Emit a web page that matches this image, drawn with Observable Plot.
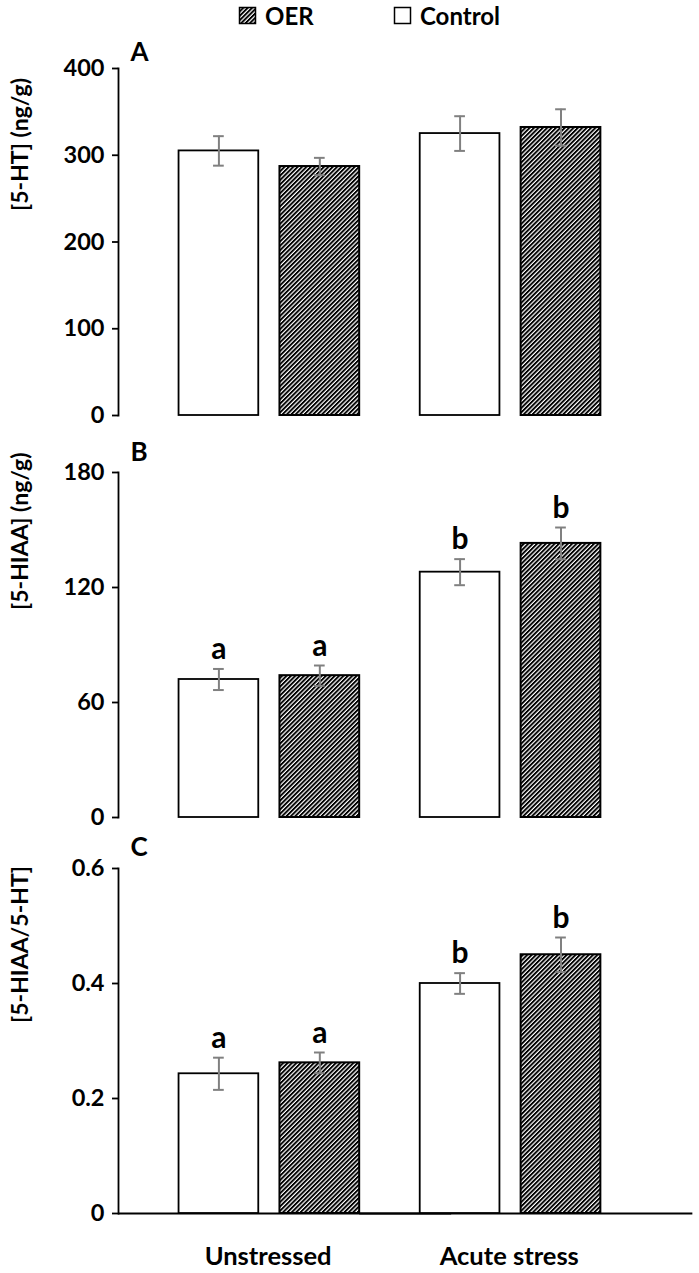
<!DOCTYPE html>
<html><head><meta charset="utf-8">
<script src="https://cdn.jsdelivr.net/npm/d3@7"></script>
<script src="https://cdn.jsdelivr.net/npm/@observablehq/plot@0.6"></script>
<style>
body{margin:0;background:#fff;overflow:hidden;font-family:Lato,sans-serif;}
svg{display:block}
#chart g[aria-label^="y-axis"], #chart g[aria-label="frame"] {stroke-width:1.8px}
</style></head><body>
<svg width="0" height="0" style="position:absolute">
  <defs>
    <pattern id="hatch" patternUnits="userSpaceOnUse" width="3.1" height="3.1" patternTransform="rotate(45)">
      <rect width="3.1" height="3.1" fill="white"/>
      <rect width="1.9" height="3.1" fill="black"/>
    </pattern>
  </defs>
</svg>
<svg id="legend" width="699" height="38" style="font-family:Lato,sans-serif;font-weight:bold;font-size:24px">
  <rect x="239.5" y="7.5" width="16" height="16" fill="url(#hatch)" stroke="black" stroke-width="1.5"/>
  <text x="265" y="24.5">OER</text>
  <rect x="394.5" y="7.5" width="16" height="16" fill="white" stroke="black" stroke-width="1.5"/>
  <text x="420" y="24.5">Control</text>
</svg>
<div id="chart"></div>
<script>
// ---- data ----
const groups = ["Unstressed", "Acute stress"];
const series = ["Control", "OER"];

// Panel A: [5-HT] (ng/g)
const htControl = [305, 325];
const htOER = [287, 332];
const htControlErr = [17, 20];
const htOERErr = [10, 21];

// Panel B: [5-HIAA] (ng/g)
const hiaaControl = [72, 128];
const hiaaOER = [74, 143];
const hiaaControlErr = [5.5, 6.8];
const hiaaOERErr = [5.3, 8.3];
const hiaaControlLetters = ["a", "b"];
const hiaaOERLetters = ["a", "b"];

// Panel C: [5-HIAA/5-HT]
const ratioControl = [0.243, 0.400];
const ratioOER = [0.262, 0.450];
const ratioControlErr = [0.028, 0.018];
const ratioOERErr = [0.018, 0.030];
const ratioControlLetters = ["a", "b"];
const ratioOERLetters = ["a", "b"];

const ticksA = [0, 100, 200, 300, 400];
const ticksB = [0, 60, 120, 180];
const ticksC = [0, 0.2, 0.4, 0.6];

function makeRows(ctrl, oer, ctrlErr, oerErr, ctrlLet, oerLet) {
  const rows = [];
  groups.forEach((g, i) => {
    rows.push({group: g, series: "Control", mean: ctrl[i], err: ctrlErr[i], letter: ctrlLet ? ctrlLet[i] : null});
    rows.push({group: g, series: "OER", mean: oer[i], err: oerErr[i], letter: oerLet ? oerLet[i] : null});
  });
  return rows;
}

function panel({rows, letter, ylabel, ticks, height, mt, mb, letterDy, labelDy, showX}) {
  const first = [{group: groups[0]}];
  const errColor = "#808080";
  return Plot.plot({
    width: 699, height, marginLeft: 118, marginRight: 7, marginTop: mt, marginBottom: mb,
    style: {fontFamily: "Lato, sans-serif", fontWeight: "bold", fontSize: "23.5px", color: "#000", background: "#fff", overflow: "visible"},
    fx: {domain: groups, paddingInner: 0, paddingOuter: 0.19, align: 0, round: false, axis: null},
    x: {domain: series, paddingInner: 0.21, paddingOuter: 0.3, align: 1, round: false, axis: null},
    y: {domain: [ticks[0], ticks[ticks.length - 1]], ticks, tickFormat: d => String(d), tickSize: 6, tickPadding: 8, line: true, label: null},
    marks: [
      showX ? Plot.ruleY([0], {insetRight: -92, strokeWidth: 1.8}) : null,
      Plot.barY(rows.filter(d => d.series === "Control"), {fx: "group", x: "series", y: "mean", fill: "white", stroke: "black", strokeWidth: 1.8}),
      Plot.barY(rows.filter(d => d.series === "OER"), {fx: "group", x: "series", y: "mean", fill: "url(#hatch)", stroke: "black", strokeWidth: 2}),
      Plot.ruleX(rows, {fx: "group", x: "series", y1: d => d.mean - d.err, y2: d => d.mean + d.err, stroke: errColor, strokeWidth: 2}),
      Plot.tickY(rows, {fx: "group", x: "series", y: d => d.mean + d.err, stroke: errColor, strokeWidth: 2, insetLeft: 34.5, insetRight: 34.5}),
      Plot.tickY(rows, {fx: "group", x: "series", y: d => d.mean - d.err, stroke: errColor, strokeWidth: 2, insetLeft: 34.5, insetRight: 34.5}),
      Plot.text(rows.filter(d => d.letter), {fx: "group", x: "series", y: d => d.mean + d.err, text: "letter", lineAnchor: "bottom", dy: -10, fontSize: 30, fontWeight: "bold"}),
      Plot.text(first, {fx: "group", text: () => letter, frameAnchor: "top-left", textAnchor: "start", lineAnchor: "top", dx: 12, dy: letterDy, fontSize: 26, fontWeight: "bold"}),
      Plot.text(first, {fx: "group", text: () => ylabel, frameAnchor: "left", rotate: -90, dx: -98, dy: labelDy, fontSize: 23, fontWeight: "bold"}),
      showX ? Plot.text(groups.map(g => ({group: g})), {fx: "group", text: "group", frameAnchor: "bottom", lineAnchor: "top", dx: 29, dy: 33, fontSize: 25.5, fontWeight: "bold"}) : null
    ]
  });
}

const chart = document.getElementById("chart");
chart.append(panel({
  rows: makeRows(htControl, htOER, htControlErr, htOERErr),
  letter: "A", ylabel: "[5-HT] (ng/g)", ticks: ticksA,
  height: 397, mt: 30, mb: 20, letterDy: -26, labelDy: -31, showX: false
}));
chart.append(panel({
  rows: makeRows(hiaaControl, hiaaOER, hiaaControlErr, hiaaOERErr, hiaaControlLetters, hiaaOERLetters),
  letter: "B", ylabel: "[5-HIAA] (ng/g)", ticks: ticksB,
  height: 397, mt: 37, mb: 15, letterDy: -30, labelDy: -35, showX: false
}));
chart.append(panel({
  rows: makeRows(ratioControl, ratioOER, ratioControlErr, ratioOERErr, ratioControlLetters, ratioOERLetters),
  letter: "C", ylabel: "[5-HIAA/5-HT]", ticks: ticksC,
  height: 441, mt: 36, mb: 60, letterDy: -31, labelDy: -18, showX: true
}));
</script>
</body></html>
